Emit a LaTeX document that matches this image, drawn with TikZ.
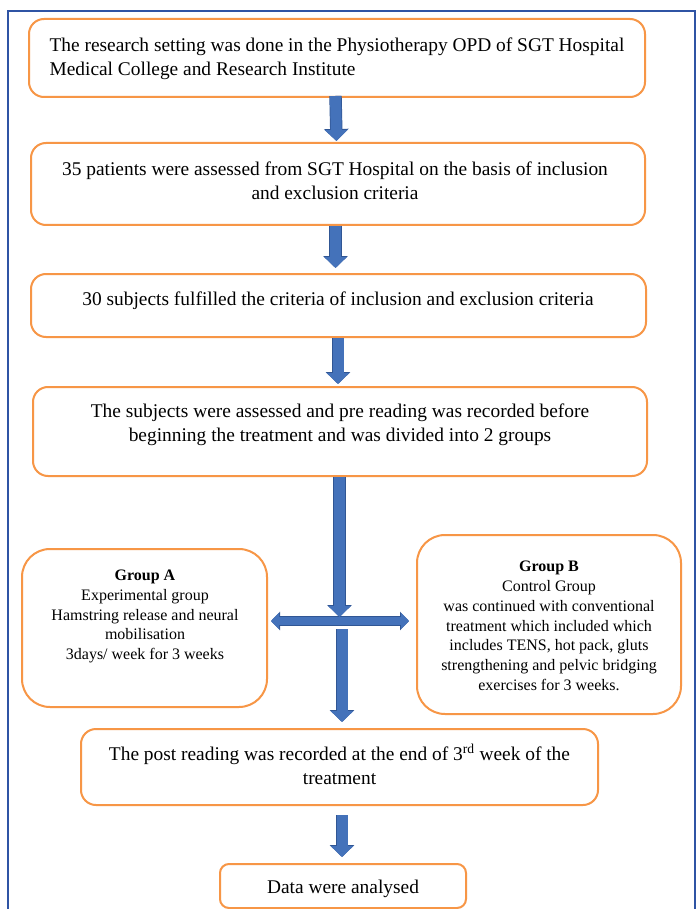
\documentclass[tikz,border=0pt]{standalone}
\usepackage{fontspec}
\setmainfont{Liberation Serif}
\usetikzlibrary{arrows.meta,calc}
\definecolor{boxorange}{RGB}{247,150,70}
\definecolor{arrowblue}{RGB}{68,114,186}
\definecolor{arrowedge}{RGB}{48,86,148}
\definecolor{frameblue}{RGB}{47,84,164}
\begin{document}
\begin{tikzpicture}[x=1pt,y=-1pt,
  flowbox/.style={draw=boxorange, line width=2pt, rounded corners=15pt, inner sep=0pt},
  groupbox/.style={draw=boxorange, line width=2pt, rounded corners=28pt, inner sep=0pt},
  bigtxt/.style={font=\fontsize{19.4}{24}\selectfont, inner sep=0pt, align=center},
  smalltxt/.style={font=\fontsize{16}{19.8}\selectfont, inner sep=0pt, align=center},
  blk/.style={line width=11pt, draw=arrowblue, -{Triangle[width=22pt,length=11pt]},
    preaction={draw=arrowedge, line width=12.4pt, -{Triangle[width=24pt,length=12pt]}}},
  blkh/.style={line width=8pt, draw=arrowblue, {Triangle[width=16pt,length=8pt]}-{Triangle[width=16pt,length=8pt]},
    preaction={draw=arrowedge, line width=9.4pt, {Triangle[width=18pt,length=9pt]}-{Triangle[width=18pt,length=9pt]}}}
]
\useasboundingbox (0,0) rectangle (699,909);
\fill[white] (0,0) rectangle (699,909);
\draw[frameblue, line width=1.3pt] (8,920) -- (8,11) -- (695,11) -- (695,920);

% boxes
\node[flowbox, minimum width=616pt, minimum height=78pt] (b1) at (337,58) {};
\node[flowbox, minimum width=614pt, minimum height=82pt] (b2) at (338,184) {};
\node[flowbox, minimum width=615pt, minimum height=63pt] (b3) at (338.5,305.5) {};
\node[flowbox, minimum width=614pt, minimum height=89pt] (b4) at (340,431.5) {};
\node[groupbox, minimum width=245pt, minimum height=158pt] (gA) at (144.5,628) {};
\node[groupbox, minimum width=264pt, minimum height=179pt] (gB) at (549,624.5) {};
\node[flowbox, minimum width=517pt, minimum height=76pt] (b5) at (339.5,767) {};
\node[flowbox, rounded corners=9pt, minimum width=246pt, minimum height=44pt] (b6) at (343,886) {};

% texts
\node[bigtxt, align=left] (t1) at (337,58.5) {The research setting was done in the Physiotherapy OPD of SGT Hospital\\Medical College and Research Institute};
\node[bigtxt] (t2) at (335,181) {35 patients were assessed from SGT Hospital on the basis of inclusion\\and exclusion criteria};
\node[bigtxt] (t3) at (338,301) {30 subjects fulfilled the criteria of inclusion and exclusion criteria};
\node[bigtxt] (t4) at (340,425) {The subjects were assessed and pre reading was recorded before\\beginning the treatment and was divided into 2 groups};
\node[smalltxt] (tA) at (145,616.5) {\textbf{Group A}\\Experimental group\\Hamstring release and neural\\mobilisation\\3days/ week for 3 weeks};
\node[smalltxt] (tB) at (549,626) {\textbf{Group B}\\Control Group\\was continued with conventional\\treatment which included which\\includes TENS, hot pack, gluts\\strengthening and pelvic bridging\\exercises for 3 weeks.};
\node[bigtxt] (t5) at (339.5,764.5) {The post reading was recorded at the end of 3\textsuperscript{rd} week of the\\treatment};
\node[bigtxt] (t6) at (343,889) {Data were analysed};

% junction
\coordinate (j) at (339.5,621);

% arrows
\draw[blk] ([xshift=-1.5pt,yshift=2pt]b1.south) -- ([xshift=-1.5pt,yshift=1pt]b2.north);
\draw[blk] ([xshift=-2.5pt,yshift=0pt]b2.south) -- ([xshift=-3pt,yshift=5pt]b3.north);
\draw[blk] ([xshift=-0.5pt,yshift=0pt]b3.south) -- ([xshift=-2pt,yshift=2pt]b4.north);
\draw[blkh] ([xshift=3pt,yshift=7pt]gA.east) -- ([xshift=-7pt,yshift=3.5pt]gB.west);
\draw[blk] ([xshift=-0.5pt,yshift=0pt]b4.south) -- ([yshift=4pt]j);
\draw[blk] ([xshift=2.5pt,yshift=-8pt]j) -- ([xshift=2.5pt,yshift=6pt]b5.north);
\draw[blk] ([xshift=2.5pt,yshift=-9pt]b5.south) -- ([xshift=-1pt,yshift=6pt]b6.north);
\end{tikzpicture}
\end{document}
